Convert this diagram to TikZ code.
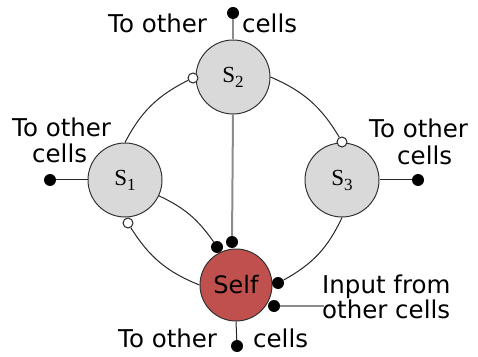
\documentclass[tikz,border=0pt]{standalone}
\usepackage{fontspec}
\setmainfont{DejaVu Sans}
\newfontfamily\seriffont{Liberation Serif}
\definecolor{cellgray}{HTML}{D9D9D9}
\definecolor{selfred}{HTML}{C0504D}
\newcommand{\cellname}[1]{{\seriffont\fontsize{23}{26}\selectfont S\raisebox{-5pt}{\fontsize{17}{20}\selectfont #1}}}
\begin{document}
\begin{tikzpicture}[x=1pt,y=1pt,
  cell/.style={circle,draw=black!80,line width=1pt,fill=cellgray,minimum size=74pt,inner sep=0pt},
  selfcell/.style={cell,fill=selfred,minimum size=72pt,font=\fontsize{24}{28}\selectfont},
  dotm/.style={circle,fill=black,minimum size=12pt,inner sep=0pt},
  openm/.style={circle,draw=black!85,fill=white,line width=1pt,minimum size=10pt,inner sep=0pt},
  lbl/.style={font=\fontsize{24.5}{30}\selectfont,inner sep=0pt,anchor=base west},
  conn/.style={draw=black!85,line width=1pt},
  grayconn/.style={draw=black!45,line width=2pt}]
\useasboundingbox (0,0) rectangle (478,356);

% cells
\node[cell] (S2) at (233,279) {\cellname{2}};
\node[cell] (S1) at (125,176) {\cellname{1}};
\node[cell] (S3) at (342,176) {\cellname{3}};
\node[selfcell] (Self) at (236,71) {Self};

% synapse markers
\node[openm] (o2) at (193,278) {};
\node[openm] (o3) at (342,214) {};
\node[openm] (o1) at (128,133) {};
\node[dotm] (d1) at (217,109) {};
\node[dotm] (d2) at (232,114) {};
\node[dotm] (d3) at (278,73) {};
\node[dotm] (d4) at (274,50) {};
\node[dotm] (dtop) at (233,343) {};
\node[dotm] (dleft) at (50,176) {};
\node[dotm] (dright) at (418,176) {};
\node[dotm] (dbot) at (237,10) {};
\coordinate (inp) at (324,50);

% connectors
\draw[conn] (S1.north) to[bend left=18] (o2);
\draw[conn] (S2.east) to[bend left=18] (o3);
\draw[conn] (S3.south) to[bend left=18] (d3);
\draw[conn] (Self.west) to[bend left=18] (o1);
\draw[conn] (S1.-25) to[bend left=15] (d1);
\draw[grayconn] (S2.south) -- (d2);
\draw[grayconn] (dtop) -- (S2.north);
\draw[conn] (dleft) -- (S1.west);
\draw[conn] (S3.east) -- (dright);
\draw[conn] (Self.south) -- (dbot);
\draw[grayconn] (d4) -- (inp);

% labels
\node[lbl] (t1a) at (108,323) {To other};
\node[lbl] (t1b) at (242,323) {cells};
\node[lbl] (t2a) at (12,219) {To other};
\node[lbl] (t2b) at (32,193) {cells};
\node[lbl] (t3a) at (369,218) {To other};
\node[lbl] (t3b) at (397,191) {cells};
\node[lbl] (t4a) at (118,9) {To other};
\node[lbl] (t4b) at (253,9) {cells};
\node[lbl] (t5a) at (322,63) {Input from};
\node[lbl] (t5b) at (322,38) {other cells};
\end{tikzpicture}
\end{document}
